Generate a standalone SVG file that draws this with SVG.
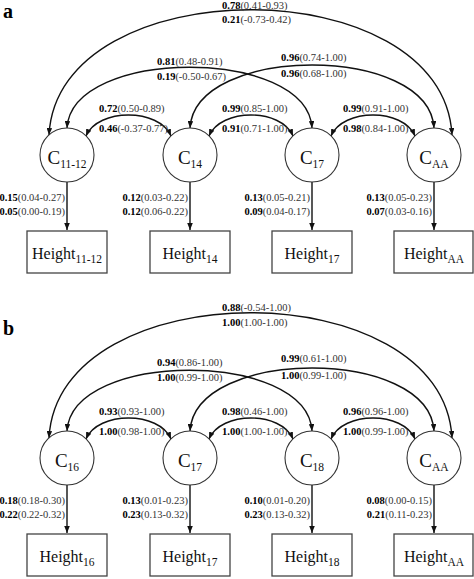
<svg xmlns="http://www.w3.org/2000/svg" width="474" height="579" viewBox="0 0 474 579">
<style>
  text { font-family: "Liberation Serif", "Times New Roman", serif; }
  .num { font-size: 10.5px; fill: #333; }
  .num .b { font-weight: bold; fill: #000; }
  .lbl { font-size: 19px; fill: #111; }
  .hl { font-size: 16px; fill: #111; }
  .sub { font-size: 11.5px; }
  .node circle { fill: #fff; stroke: #333; stroke-width: 1.1; }
  .node rect { fill: #fff; stroke: #444; stroke-width: 1.3; }
  .arc { fill: none; stroke: #111; stroke-width: 1.4; marker-start: url(#ah); marker-end: url(#ah); }
  .path { fill: none; stroke: #111; stroke-width: 1.4; marker-end: url(#ah); }
  .panel { font-weight: bold; font-size: 20px; fill: #000; }
</style>
<defs>
  <marker id="ah" viewBox="0 0 10 8" refX="10" refY="4" markerWidth="7" markerHeight="5.6" markerUnits="userSpaceOnUse" orient="auto-start-reverse">
    <path d="M0,0 L10,4 L0,8 z" fill="#111"/>
  </marker>
</defs>
<rect width="474" height="579" fill="#fff"/>

<text class="panel" x="3" y="18">a</text>
<text class="panel" x="3" y="335">b</text>

<!-- Panel a -->
<g id="panel-a">
  <g id="connectors-a">
    <path class="arc" d="M49,135 C58,-32 443,-32 452,135"/>
    <path class="arc" d="M67,128 C72,47 307,47 312,128"/>
    <path class="arc" d="M190,128 C195,44 429,44 434,128"/>
    <path class="arc" d="M86,136 C98,108 159,108 171,136"/>
    <path class="arc" d="M209,136 C221,108 281,108 293,136"/>
    <path class="arc" d="M331,136 C343,108 403,108 415,136"/>
    <path class="path" d="M67,182 V230"/>
    <path class="path" d="M190,182 V230"/>
    <path class="path" d="M312,182 V230"/>
    <path class="path" d="M434,182 V230"/>
  </g>
  <g id="labels-a" class="num">
    <text x="222" y="9"><tspan class="b">0.78</tspan>(0.41-0.93)</text>
    <text x="222" y="23"><tspan class="b">0.21</tspan>(-0.73-0.42)</text>
    <text x="157" y="65"><tspan class="b">0.81</tspan>(0.48-0.91)</text>
    <text x="157" y="80"><tspan class="b">0.19</tspan>(-0.50-0.67)</text>
    <text x="281" y="61"><tspan class="b">0.96</tspan>(0.74-1.00)</text>
    <text x="281" y="77"><tspan class="b">0.96</tspan>(0.68-1.00)</text>
    <text x="99" y="112"><tspan class="b">0.72</tspan>(0.50-0.89)</text>
    <text x="99" y="132"><tspan class="b">0.46</tspan>(-0.37-0.77)</text>
    <text x="222" y="112"><tspan class="b">0.99</tspan>(0.85-1.00)</text>
    <text x="222" y="132"><tspan class="b">0.91</tspan>(0.71-1.00)</text>
    <text x="343" y="112"><tspan class="b">0.99</tspan>(0.91-1.00)</text>
    <text x="343" y="132"><tspan class="b">0.98</tspan>(0.84-1.00)</text>
    <g text-anchor="end">
      <text x="65" y="201"><tspan class="b">0.15</tspan>(0.04-0.27)</text>
      <text x="65" y="215"><tspan class="b">0.05</tspan>(0.00-0.19)</text>
      <text x="188" y="201"><tspan class="b">0.12</tspan>(0.03-0.22)</text>
      <text x="188" y="215"><tspan class="b">0.12</tspan>(0.06-0.22)</text>
      <text x="310" y="201"><tspan class="b">0.13</tspan>(0.05-0.21)</text>
      <text x="310" y="215"><tspan class="b">0.09</tspan>(0.04-0.17)</text>
      <text x="432" y="201"><tspan class="b">0.13</tspan>(0.05-0.23)</text>
      <text x="432" y="215"><tspan class="b">0.07</tspan>(0.03-0.16)</text>
    </g>
  </g>
  <g id="a-C11-12" class="node"><circle cx="67" cy="155" r="27"/><text class="lbl" x="67" y="164" text-anchor="middle">C<tspan class="sub" dy="4">11-12</tspan></text></g>
  <g id="a-C14" class="node"><circle cx="190" cy="155" r="27"/><text class="lbl" x="190" y="164" text-anchor="middle">C<tspan class="sub" dy="4">14</tspan></text></g>
  <g id="a-C17" class="node"><circle cx="312" cy="155" r="27"/><text class="lbl" x="312" y="164" text-anchor="middle">C<tspan class="sub" dy="4">17</tspan></text></g>
  <g id="a-CAA" class="node"><circle cx="434" cy="155" r="27"/><text class="lbl" x="434" y="164" text-anchor="middle">C<tspan class="sub" dy="4">AA</tspan></text></g>
  <g id="a-H11-12" class="node"><rect x="27" y="231" width="80" height="42"/><text class="hl" x="67" y="259" text-anchor="middle">Height<tspan class="sub" dy="4">11-12</tspan></text></g>
  <g id="a-H14" class="node"><rect x="150" y="231" width="80" height="42"/><text class="hl" x="190" y="259" text-anchor="middle">Height<tspan class="sub" dy="4">14</tspan></text></g>
  <g id="a-H17" class="node"><rect x="272" y="231" width="80" height="42"/><text class="hl" x="312" y="259" text-anchor="middle">Height<tspan class="sub" dy="4">17</tspan></text></g>
  <g id="a-HAA" class="node"><rect x="394" y="231" width="79" height="42"/><text class="hl" x="434" y="259" text-anchor="middle">Height<tspan class="sub" dy="4">AA</tspan></text></g>
</g>

<!-- Panel b -->
<g id="panel-b" transform="translate(0,303)">
  <g id="connectors-b">
    <path class="arc" d="M49,135 C58,-32 443,-32 452,135"/>
    <path class="arc" d="M67,128 C72,47 307,47 312,128"/>
    <path class="arc" d="M190,128 C195,44 429,44 434,128"/>
    <path class="arc" d="M86,136 C98,108 159,108 171,136"/>
    <path class="arc" d="M209,136 C221,108 281,108 293,136"/>
    <path class="arc" d="M331,136 C343,108 403,108 415,136"/>
    <path class="path" d="M67,182 V230"/>
    <path class="path" d="M190,182 V230"/>
    <path class="path" d="M312,182 V230"/>
    <path class="path" d="M434,182 V230"/>
  </g>
  <g id="labels-b" class="num">
    <text x="222" y="8"><tspan class="b">0.88</tspan>(-0.54-1.00)</text>
    <text x="222" y="23"><tspan class="b">1.00</tspan>(1.00-1.00)</text>
    <text x="157" y="63"><tspan class="b">0.94</tspan>(0.86-1.00)</text>
    <text x="157" y="78"><tspan class="b">1.00</tspan>(0.99-1.00)</text>
    <text x="281" y="59"><tspan class="b">0.99</tspan>(0.61-1.00)</text>
    <text x="281" y="76"><tspan class="b">1.00</tspan>(0.99-1.00)</text>
    <text x="99" y="112"><tspan class="b">0.93</tspan>(0.93-1.00)</text>
    <text x="99" y="132"><tspan class="b">1.00</tspan>(0.98-1.00)</text>
    <text x="222" y="112"><tspan class="b">0.98</tspan>(0.46-1.00)</text>
    <text x="222" y="132"><tspan class="b">1.00</tspan>(1.00-1.00)</text>
    <text x="343" y="112"><tspan class="b">0.96</tspan>(0.96-1.00)</text>
    <text x="343" y="132"><tspan class="b">1.00</tspan>(0.99-1.00)</text>
    <g text-anchor="end">
      <text x="65" y="201"><tspan class="b">0.18</tspan>(0.18-0.30)</text>
      <text x="65" y="215"><tspan class="b">0.22</tspan>(0.22-0.32)</text>
      <text x="188" y="201"><tspan class="b">0.13</tspan>(0.01-0.23)</text>
      <text x="188" y="215"><tspan class="b">0.23</tspan>(0.13-0.32)</text>
      <text x="310" y="201"><tspan class="b">0.10</tspan>(0.01-0.20)</text>
      <text x="310" y="215"><tspan class="b">0.23</tspan>(0.13-0.32)</text>
      <text x="432" y="201"><tspan class="b">0.08</tspan>(0.00-0.15)</text>
      <text x="432" y="215"><tspan class="b">0.21</tspan>(0.11-0.23)</text>
    </g>
  </g>
  <g id="b-C16" class="node"><circle cx="67" cy="155" r="27"/><text class="lbl" x="67" y="164" text-anchor="middle">C<tspan class="sub" dy="4">16</tspan></text></g>
  <g id="b-C17" class="node"><circle cx="190" cy="155" r="27"/><text class="lbl" x="190" y="164" text-anchor="middle">C<tspan class="sub" dy="4">17</tspan></text></g>
  <g id="b-C18" class="node"><circle cx="312" cy="155" r="27"/><text class="lbl" x="312" y="164" text-anchor="middle">C<tspan class="sub" dy="4">18</tspan></text></g>
  <g id="b-CAA" class="node"><circle cx="434" cy="155" r="27"/><text class="lbl" x="434" y="164" text-anchor="middle">C<tspan class="sub" dy="4">AA</tspan></text></g>
  <g id="b-H16" class="node"><rect x="27" y="231" width="80" height="42"/><text class="hl" x="67" y="259" text-anchor="middle">Height<tspan class="sub" dy="4">16</tspan></text></g>
  <g id="b-H17" class="node"><rect x="150" y="231" width="80" height="42"/><text class="hl" x="190" y="259" text-anchor="middle">Height<tspan class="sub" dy="4">17</tspan></text></g>
  <g id="b-H18" class="node"><rect x="272" y="231" width="80" height="42"/><text class="hl" x="312" y="259" text-anchor="middle">Height<tspan class="sub" dy="4">18</tspan></text></g>
  <g id="b-HAA" class="node"><rect x="394" y="231" width="79" height="42"/><text class="hl" x="434" y="259" text-anchor="middle">Height<tspan class="sub" dy="4">AA</tspan></text></g>
</g>
</svg>
